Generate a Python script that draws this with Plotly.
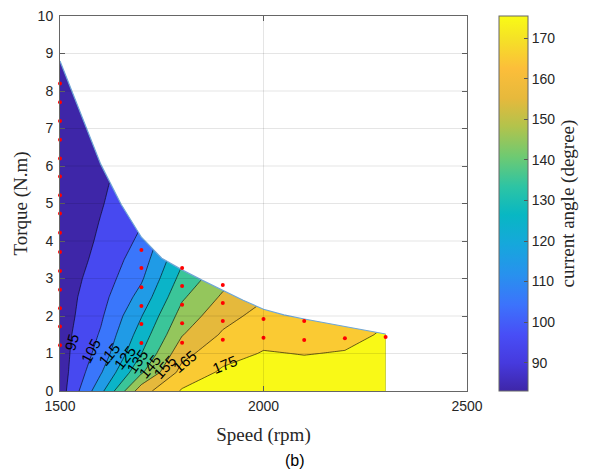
import plotly.graph_objects as go

# Grid (speed columns, torque rows) for the current-angle map
speed_grid = [1500, 1600, 1700, 1800, 1900, 2000, 2100, 2200, 2300]
torque_grid = [0, 0.5, 1, 1.5, 2, 2.5, 3, 3.5, 4, 4.5, 5, 5.5, 6, 6.5, 7, 7.5, 8, 8.5, 9]

# current angle (degree) along each speed column, bottom to top
angle_1500 = [90, 90, 90.5, 90.5, 90, 90, 89.5, 88, 87.5, 87, 86.5, 86, 85.5, 85, 84.5, 84, 84, 83.5, 83]
angle_1600 = [122, 114, 109, 106, 103.5, 101.5, 99.5, 98, 96.5, 95.4, 94.3, 93.5, 92.5, 91.5, 90.5, 90, 89.5, 89, 88.5]
angle_1700 = [161, 143.5, 134.8, 129.5, 124.6, 118.6, 113.7, 110.2, 107, 104.5, 102.5, 101, 99.5, 98.5, 97.5, 96.5, 95.5, 95, 94.5]
angle_1800 = [176, 168.5, 162, 154.5, 149, 143.7, 138.5, 133.5, 129, 125, 121.5, 118.5, 116, 114, 112, 110, 108.5, 107, 106]
angle_1900 = [180, 176.5, 171.5, 166.3, 161.5, 156.5, 151.5, 147, 143, 139.5, 136.5, 134, 131.5, 129.5, 127.5, 125.5, 124, 122.5, 121]
angle_2000 = [181, 178.5, 175.6, 172, 168.5, 164, 160, 156.5, 153, 150, 147.5, 145, 143, 141, 139, 137, 135.5, 134, 132.5]
angle_2100 = [181, 178, 174.7, 171.5, 168.5, 165.5, 162.5, 159.5, 157, 154.5, 152, 150, 148, 146, 144, 142, 140.5, 139, 137.5]
angle_2200 = [181, 178.5, 175.5, 172.5, 169.5, 166.5, 163.5, 161, 158.5, 156, 154, 152, 150, 148, 146, 144, 142.5, 141, 139.5]
angle_2300 = [182, 180, 178, 176, 174, 171.5, 169, 166.5, 164, 162, 160, 158, 156, 154, 152, 150, 148.5, 147, 145.5]

# maximum torque envelope
env_speed = [1500, 1550, 1600, 1650, 1700, 1750, 1800, 1850, 1900, 1950, 2000, 2050, 2100, 2150, 2200, 2250, 2280, 2300]
env_torque = [8.8, 7.4, 6.05, 4.98, 4.1, 3.54, 3.23, 2.95, 2.68, 2.42, 2.18, 2.03, 1.92, 1.82, 1.72, 1.62, 1.56, 1.52]

# measured operating points (red dots)
pt_speed = [1500] * 15 + [1700] * 6 + [1800] * 5 + [1900] * 4 + [2000] * 2 + [2100] * 2 + [2200, 2300]
pt_torque = [1.22, 1.72, 2.21, 2.7, 3.2, 3.71, 4.22, 4.73, 5.22, 5.72, 6.2, 6.7, 7.2, 7.7, 8.2,
             1.28, 1.79, 2.27, 2.77, 3.28, 3.76,
             1.29, 1.81, 2.3, 2.8, 3.28,
             1.37, 1.87, 2.35, 2.83,
             1.42, 1.92,
             1.36, 1.87,
             1.41, 1.44]

# contour levels and their inline labels
levels = [95, 105, 115, 125, 135, 145, 155, 165, 175]
label_speed = [1528, 1576, 1620, 1659, 1690, 1720, 1756, 1806, 1905]
label_torque = [1.3, 1.08, 0.98, 0.9, 0.78, 0.66, 0.64, 0.8, 0.72]
label_angle = [-75, -62, -50, -52, -55, -50, -48, -40, -22]

cmin, cmax = 83, 175.5

parula = [
    (0.000, (62, 38, 168)), (0.075, (70, 58, 222)), (0.150, (72, 78, 246)),
    (0.230, (60, 115, 252)), (0.310, (40, 145, 238)), (0.390, (22, 167, 220)),
    (0.470, (8, 183, 195)), (0.545, (45, 196, 164)), (0.625, (110, 202, 114)),
    (0.705, (178, 195, 76)), (0.780, (230, 185, 60)), (0.860, (252, 190, 58)),
    (0.940, (245, 226, 38)), (1.000, (249, 251, 21)),
]


def parula_at(f):
    f = min(max(f, 0), 1)
    for (f0, c0), (f1, c1) in zip(parula, parula[1:]):
        if f <= f1:
            w = (f - f0) / (f1 - f0)
            return "rgb(%d,%d,%d)" % tuple(round(a + (b - a) * w) for a, b in zip(c0, c1))
    return "rgb(%d,%d,%d)" % parula[-1][1]


parula_scale = [[f, "rgb(%d,%d,%d)" % c] for f, c in parula]

# stepped scale: each filled band takes the colour of its lower level (like contourf)
band_lower = [cmin] + levels
nb = len(band_lower)
step_scale = []
for k, low in enumerate(band_lower):
    col = parula_at((low - cmin) / (cmax - cmin))
    a = max(0, (k - 0.5) / (nb - 1))
    b = min(1, (k + 0.5) / (nb - 1))
    step_scale += [[a, col], [b, col]]

z = [list(r) for r in zip(angle_1500, angle_1600, angle_1700, angle_1800, angle_1900,
                          angle_2000, angle_2100, angle_2200, angle_2300)]

fig = go.Figure()

fig.add_trace(go.Contour(
    x=speed_grid, y=torque_grid, z=z,
    contours=dict(start=levels[0], end=levels[-1], size=10, coloring="fill"),
    line=dict(color="black", width=0.6, smoothing=0),
    colorscale=step_scale, showscale=False, hoverinfo="skip",
))

# blank out everything above the torque envelope (a bit past the last column to avoid a seam)
mask_x = env_speed + [env_speed[-1] + 50, env_speed[-1] + 50, env_speed[0]]
mask_y = env_torque + [env_torque[-1], 10, 10]
fig.add_trace(go.Scatter(
    x=mask_x, y=mask_y,
    mode="lines", fill="toself", fillcolor="white",
    line=dict(width=0), hoverinfo="skip", showlegend=False,
))
fig.add_trace(go.Scatter(
    x=env_speed, y=env_torque, mode="lines",
    line=dict(color="#6fa6d6", width=1.2), hoverinfo="skip", showlegend=False,
))

fig.add_trace(go.Scatter(
    x=pt_speed, y=pt_torque, mode="markers", cliponaxis=False,
    marker=dict(color="#ff0000", size=4), showlegend=False,
))

# continuous colorbar
fig.add_trace(go.Scatter(
    x=[1500], y=[-5], mode="markers", showlegend=False, hoverinfo="skip",
    marker=dict(
        color=[cmin], colorscale=parula_scale, cmin=cmin, cmax=cmax, showscale=True,
        colorbar=dict(
            x=(499 - 60) / 407, xanchor="left", xpad=0, y=0.5, yanchor="middle",
            len=1, ypad=0, thickness=29, outlinecolor="#666", outlinewidth=1,
            ticks="inside", ticklen=4, tickcolor="#555",
            tickvals=[90, 100, 110, 120, 130, 140, 150, 160, 170],
            tickfont=dict(family="Liberation Sans", size=14, color="#262626"),
            title=dict(text="current angle (degree)", side="right",
                       font=dict(family="Liberation Serif", size=19, color="#262626")),
        ),
    ),
))

for lv, sx, ty, ang in zip(levels, label_speed, label_torque, label_angle):
    fig.add_annotation(x=sx, y=ty, text=str(lv), textangle=ang, showarrow=False,
                       font=dict(family="Liberation Sans", size=15, color="black"))

# grid lines on top, like MATLAB
for t in range(1, 10):
    fig.add_shape(type="line", x0=1500, x1=2500, y0=t, y1=t, layer="above",
                  line=dict(color="rgba(0,0,0,0.1)", width=1))
fig.add_shape(type="line", x0=2000, x1=2000, y0=0, y1=10, layer="above",
              line=dict(color="rgba(0,0,0,0.1)", width=1))

fig.add_annotation(x=0.577, y=-0.214, xref="paper", yref="paper", text="(b)",
                   showarrow=False, font=dict(family="Liberation Sans", size=16, color="black"))

axis_common = dict(showgrid=False, zeroline=False, showline=True, mirror="ticks",
                   linecolor="#666", linewidth=1, ticks="inside", ticklen=5, tickcolor="#666",
                   tickfont=dict(family="Liberation Sans", size=14, color="#262626"))

fig.update_layout(
    width=590, height=471,
    margin=dict(l=60, r=123, t=16, b=80, autoexpand=False),
    plot_bgcolor="white", paper_bgcolor="white",
    xaxis=dict(range=[1500, 2500], tickvals=[1500, 2000, 2500], ticklabelstandoff=2,
               title=dict(text="Speed (rpm)", standoff=14,
                          font=dict(family="Liberation Serif", size=19, color="#262626")),
               **axis_common),
    yaxis=dict(range=[0, 10], tickvals=list(range(0, 11)), ticklabelstandoff=3,
               title=dict(text="Torque (N.m)", standoff=4,
                          font=dict(family="Liberation Serif", size=19, color="#262626")),
               **axis_common),
    showlegend=False,
)

# the page itself adds no offset around the figure; no toolbar
fig.write_html("out.html", config={"displayModeBar": False},
               post_script="document.body.style.margin='0';")
